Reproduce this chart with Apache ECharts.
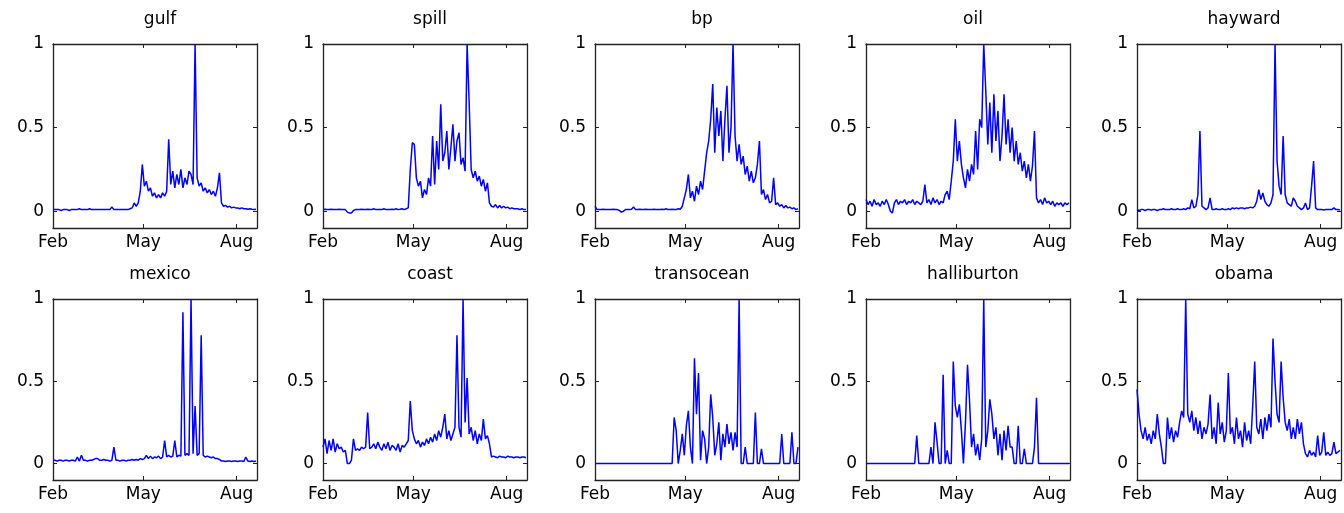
<!DOCTYPE html>
<html><head><meta charset="utf-8">
<script src="https://cdn.jsdelivr.net/npm/echarts@6/dist/echarts.min.js"></script>
<style>html,body{margin:0;padding:0;background:#fff}#c{width:1344px;height:513px}</style>
</head><body><div id="c"></div>
<script>
// ---- data (one sample every 2 days, day 0 = Feb 1) ----
const titles = ['gulf','spill','bp','oil','hayward','mexico','coast','transocean','halliburton','obama'];
const dayStep = 2;
const xTickDays = [0, 89, 181];
const xTickLabels = ['Feb','May','Aug'];
const yTicks = [0, 0.5, 1];

const gulf = [0.01,0.01,0.01,0.01,0.005,0.01,0.01,0.01,0.005,0.01,
 0.01,0.01,0.01,0.015,0.01,0.01,0.01,0.01,0.015,0.01,
 0.01,0.01,0.01,0.01,0.01,0.01,0.01,0.01,0.01,0.025,
 0.01,0.01,0.01,0.01,0.01,0.01,0.01,0.01,0.015,0.02,
 0.05,0.03,0.05,0.12,0.28,0.15,0.18,0.12,0.14,0.09,
 0.11,0.08,0.1,0.08,0.11,0.09,0.12,0.43,0.16,0.24,
 0.14,0.22,0.16,0.25,0.14,0.2,0.16,0.24,0.22,0.16,
 1.0,0.2,0.15,0.17,0.12,0.14,0.11,0.13,0.1,0.12,
 0.09,0.14,0.23,0.05,0.03,0.035,0.025,0.03,0.02,0.025,
 0.02,0.02,0.015,0.02,0.015,0.015,0.012,0.015,0.012,0.01,
 0.012];
const spill = [0.01,0.012,0.01,0.01,0.012,0.01,0.01,0.01,0.012,0.01,
 0.01,0.01,-0.005,-0.01,-0.01,0.005,0.01,0.01,0.01,0.012,
 0.01,0.01,0.012,0.01,0.01,0.015,0.01,0.01,0.01,0.01,
 0.015,0.01,0.01,0.01,0.012,0.01,0.015,0.01,0.012,0.015,
 0.01,0.015,0.02,0.25,0.41,0.4,0.2,0.15,0.18,0.08,
 0.13,0.1,0.2,0.15,0.45,0.16,0.42,0.25,0.64,0.3,
 0.35,0.48,0.25,0.38,0.52,0.3,0.42,0.47,0.28,0.32,
 0.24,1.0,0.65,0.25,0.2,0.24,0.18,0.21,0.15,0.19,
 0.12,0.17,0.05,0.03,0.025,0.04,0.02,0.035,0.02,0.03,
 0.02,0.025,0.015,0.02,0.015,0.015,0.015,0.01,0.015,0.01,
 0.01];
const bp = [0.03,0.01,0.01,0.01,0.012,0.01,0.01,0.01,0.01,0.012,
 0.01,0.01,0.005,-0.005,0.0,0.01,0.01,0.01,0.012,0.025,
 0.01,0.01,0.012,0.01,0.01,0.012,0.01,0.01,0.01,0.012,
 0.01,0.01,0.01,0.012,0.01,0.015,0.01,0.01,0.012,0.01,
 0.01,0.015,0.012,0.03,0.08,0.13,0.22,0.08,0.12,0.06,
 0.15,0.1,0.18,0.13,0.24,0.35,0.42,0.55,0.76,0.35,
 0.62,0.45,0.6,0.3,0.55,0.75,0.35,0.5,1.0,0.45,
 0.3,0.4,0.28,0.33,0.22,0.27,0.18,0.24,0.17,0.2,
 0.28,0.42,0.1,0.13,0.07,0.1,0.05,0.06,0.2,0.04,
 0.05,0.03,0.04,0.02,0.035,0.02,0.025,0.015,0.02,0.01,
 0.015];
const oil = [0.07,0.04,0.06,0.03,0.07,0.04,0.05,0.03,0.06,0.04,
 0.07,0.04,0.0,-0.01,0.05,0.07,0.04,0.06,0.05,0.07,
 0.04,0.06,0.05,0.07,0.04,0.06,0.05,0.04,0.06,0.16,
 0.05,0.07,0.04,0.08,0.05,0.07,0.04,0.06,0.05,0.1,
 0.12,0.07,0.18,0.3,0.55,0.3,0.42,0.28,0.2,0.14,
 0.25,0.18,0.28,0.22,0.48,0.25,0.55,0.5,1.0,0.72,
 0.4,0.65,0.35,0.7,0.42,0.6,0.3,0.45,0.7,0.4,
 0.55,0.35,0.5,0.3,0.42,0.28,0.35,0.24,0.3,0.2,
 0.28,0.18,0.27,0.48,0.08,0.05,0.07,0.04,0.08,0.05,
 0.06,0.04,0.06,0.03,0.05,0.04,0.05,0.03,0.05,0.04,
 0.05];
const hayward = [0.01,0.005,0.01,0.01,0.005,0.01,0.01,0.008,0.01,0.01,
 0.005,0.01,0.01,0.015,0.01,0.01,0.01,0.015,0.01,0.01,
 0.015,0.01,0.01,0.015,0.01,0.02,0.015,0.07,0.02,0.03,
 0.1,0.48,0.03,0.02,0.01,0.02,0.08,0.01,0.01,0.015,
 0.01,0.01,0.015,0.01,0.01,0.015,0.01,0.02,0.015,0.02,
 0.015,0.02,0.02,0.015,0.02,0.02,0.025,0.02,0.03,0.06,
 0.13,0.07,0.11,0.06,0.04,0.03,0.05,0.1,1.0,0.3,
 0.15,0.1,0.45,0.1,0.05,0.04,0.03,0.08,0.06,0.03,
 0.02,0.01,0.02,0.05,0.01,0.02,0.15,0.3,0.02,0.01,
 0.01,0.01,0.008,0.01,0.01,0.01,0.01,0.02,0.01,0.01,
 0.008];
const mexico = [0.02,0.02,0.015,0.02,0.02,0.015,0.02,0.02,0.015,0.02,
 0.02,0.015,0.04,0.015,0.05,0.02,0.02,0.015,0.02,0.02,
 0.025,0.03,0.03,0.02,0.02,0.025,0.02,0.02,0.015,0.02,
 0.1,0.02,0.02,0.015,0.02,0.02,0.015,0.02,0.02,0.025,
 0.02,0.025,0.02,0.03,0.025,0.03,0.05,0.03,0.045,0.03,
 0.04,0.035,0.045,0.03,0.04,0.14,0.04,0.05,0.04,0.045,
 0.14,0.04,0.05,0.045,0.92,0.05,0.06,0.05,1.0,0.06,
 0.35,0.05,0.06,0.78,0.05,0.04,0.045,0.04,0.035,0.04,
 0.03,0.03,0.025,0.015,0.015,0.012,0.015,0.015,0.012,0.015,
 0.015,0.012,0.015,0.015,0.012,0.04,0.015,0.012,0.015,0.012,
 0.015];
const coast = [0.1,0.15,0.06,0.14,0.08,0.15,0.07,0.12,0.09,0.1,
 0.07,0.08,0.0,0.0,0.02,0.15,0.08,0.09,0.08,0.1,
 0.09,0.1,0.31,0.09,0.1,0.12,0.09,0.13,0.1,0.08,
 0.12,0.09,0.13,0.08,0.11,0.1,0.08,0.12,0.07,0.11,
 0.1,0.12,0.14,0.38,0.2,0.15,0.12,0.14,0.1,0.13,
 0.11,0.15,0.12,0.16,0.13,0.18,0.14,0.2,0.16,0.22,
 0.3,0.15,0.2,0.14,0.18,0.22,0.78,0.22,0.16,1.0,
 0.25,0.52,0.18,0.22,0.14,0.2,0.12,0.18,0.14,0.27,
 0.15,0.17,0.12,0.04,0.045,0.04,0.035,0.045,0.04,0.04,
 0.035,0.045,0.04,0.04,0.035,0.04,0.04,0.035,0.04,0.04,
 0.035];
const transocean = [0,0,0,0,0,0,0,0,0,0,
 0,0,0,0,0,0,0,0,0,0,
 0,0,0,0,0,0,0,0,0,0,
 0,0,0,0,0,0,0,0,0,0.28,
 0.2,0,0.08,0.18,0.05,0.23,0.32,0.1,0,0.64,
 0.3,0.55,0.02,0.2,0.15,0,0.1,0.42,0.28,0.05,
 0.12,0.25,0.02,0.18,0.1,0.24,0.12,0.19,0.08,0.19,
 0.1,1.0,0,0,0.1,0,0,0,0,0.31,
 0,0,0.09,0,0,0,0,0,0,0,
 0,0,0.18,0,0,0,0,0.19,0,0,
 0.1];
const halliburton = [0,0,0,0,0,0,0,0,0,0,
 0,0,0,0,0,0,0,0,0,0,
 0,0,0,0,0,0.17,0,0,0,0,
 0,0,0.1,0,0.25,0.13,0,0,0.54,0,
 0.08,0,0,0.62,0.35,0.28,0.36,0.2,0,0.25,
 0.6,0.38,0.1,0.18,0.05,0.12,0.02,0.15,1.0,0.1,
 0.2,0.39,0.3,0.15,0.22,0.05,0.18,0.02,0.2,0.08,
 0.23,0.1,0.1,0,0,0.23,0,0,0.09,0,
 0,0,0,0.1,0.4,0,0,0,0,0,
 0,0,0,0,0,0,0,0,0,0,
 0];
const obama = [0.45,0.3,0.2,0.15,0.22,0.14,0.18,0.12,0.2,0.15,
 0.3,0.18,0.1,0.0,0.0,0.28,0.15,0.22,0.13,0.2,
 0.16,0.25,0.32,0.28,1.0,0.3,0.25,0.32,0.2,0.28,
 0.18,0.26,0.15,0.22,0.18,0.24,0.42,0.15,0.22,0.12,
 0.37,0.18,0.25,0.13,0.2,0.55,0.18,0.22,0.12,0.28,
 0.15,0.2,0.1,0.25,0.14,0.2,0.12,0.35,0.62,0.22,
 0.18,0.27,0.15,0.28,0.2,0.3,0.22,0.76,0.5,0.3,
 0.25,0.62,0.4,0.25,0.2,0.27,0.15,0.22,0.15,0.27,
 0.18,0.25,0.12,0.06,0.04,0.08,0.05,0.07,0.04,0.17,
 0.05,0.07,0.19,0.05,0.07,0.05,0.06,0.13,0.06,0.07,
 0.08];

const seriesValues = [gulf, spill, bp, oil, hayward, mexico, coast, transocean, halliburton, obama];

// ---- layout ----
const colLeft = [53, 323, 595, 866, 1137];
const panelW = 204;
const rowTop = [44, 299];
const rowH = [184, 181];
const FONT = 'DejaVu Sans';
const BOX = '#222';

const grid = [], xAxis = [], yAxis = [], series = [], title = [];
seriesValues.forEach((vals, k) => {
  const r = k < 5 ? 0 : 1, c = k % 5;
  grid.push({left: colLeft[c], top: rowTop[r], width: panelW, height: rowH[r], containLabel: false});
  title.push({text: titles[k], left: colLeft[c] + panelW / 2, top: rowTop[r] - 38, textAlign: 'center',
    textStyle: {fontFamily: FONT, fontSize: 17, fontWeight: 'normal', color: '#000'}});
  const axLine = {show: true, onZero: false, lineStyle: {color: BOX, width: 1.3}};
  const xBase = {type: 'value', gridIndex: k, min: 0, max: 201, splitLine: {show: false}, axisLine: axLine,
    axisTick: {show: true, inside: true, length: 4, customValues: xTickDays, lineStyle: {color: BOX}}};
  xAxis.push(Object.assign({}, xBase, {position: 'bottom',
    axisLabel: {show: true, customValues: xTickDays, margin: 6, fontFamily: FONT, fontSize: 17, color: '#000',
      formatter: v => xTickLabels[xTickDays.indexOf(v)] || ''}}));
  xAxis.push(Object.assign({}, xBase, {position: 'top', axisLabel: {show: false}}));
  const yBase = {type: 'value', gridIndex: k, min: -0.1, max: 1, splitLine: {show: false}, axisLine: axLine,
    axisTick: {show: true, inside: true, length: 4, customValues: yTicks, lineStyle: {color: BOX}}};
  yAxis.push(Object.assign({}, yBase, {position: 'left',
    axisLabel: {show: true, customValues: yTicks, margin: 9, fontFamily: FONT, fontSize: 17, color: '#000',
      formatter: v => String(v)}}));
  yAxis.push(Object.assign({}, yBase, {position: 'right', axisLabel: {show: false}}));
  series.push({type: 'line', xAxisIndex: 2 * k, yAxisIndex: 2 * k,
    data: vals.map((v, i) => [i * dayStep, v]),
    showSymbol: false, symbol: 'none', lineStyle: {color: '#0000ff', width: 1.5}, silent: true});
});

const chart = echarts.init(document.getElementById('c'), null, {renderer: 'canvas'});
chart.setOption({animation: false, backgroundColor: '#fff', title, grid, xAxis, yAxis, series});
</script>
</body></html>
